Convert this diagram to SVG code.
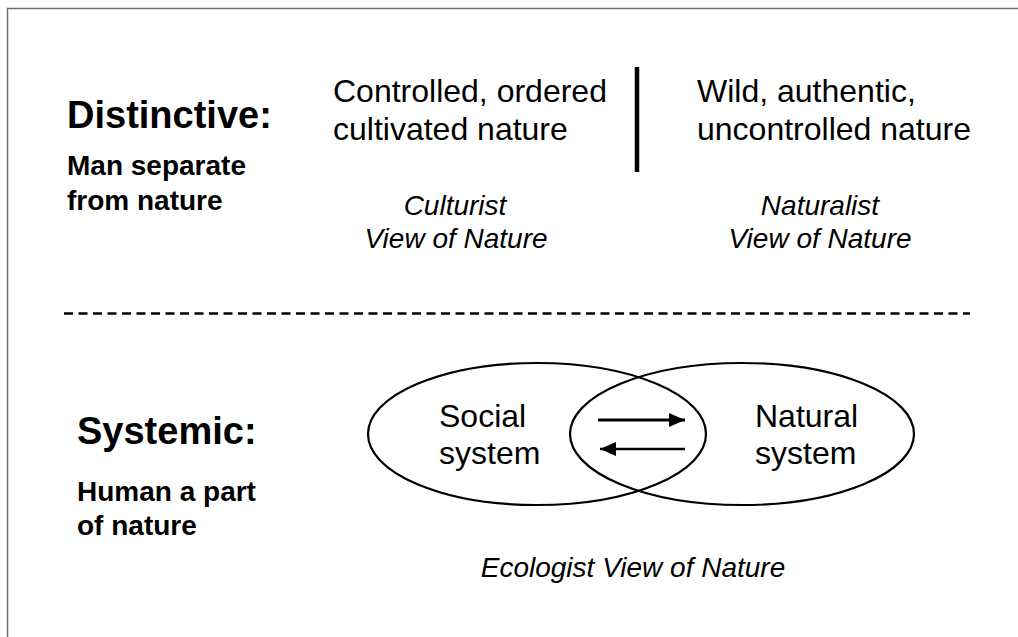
<svg xmlns="http://www.w3.org/2000/svg" width="1018" height="637" viewBox="0 0 1018 637">
  <style>
    .t { font-family: "Liberation Sans", Arial, sans-serif; fill: #000; }
    .h { font-size: 38px; font-weight: bold; }
    .sub { font-size: 28px; font-weight: bold; }
    .body { font-size: 32px; }
    .it { font-size: 28px; font-style: italic; }
    .ell { fill: none; stroke: #000; stroke-width: 2.2; }
  </style>
  <defs>
    <marker id="ah" markerWidth="10" markerHeight="10" refX="9" refY="5" orient="auto" markerUnits="userSpaceOnUse" viewBox="0 0 10 10">
      <path d="M0,0 L10,5 L0,10 Z" fill="#000"/>
    </marker>
    <marker id="head" viewBox="0 0 16 14" refX="16" refY="7" markerWidth="16" markerHeight="14" orient="auto" markerUnits="userSpaceOnUse">
      <path d="M0,0 L16,7 L0,14 Z" fill="#000"/>
    </marker>
  </defs>
  <rect x="0" y="0" width="1018" height="637" fill="#fff"/>
  <path d="M7.5,1030 V8.5 H1030" fill="none" stroke="#6e6e6e" stroke-width="1.5"/>

  <g id="distinctive">
    <text class="t h" x="67" y="128">Distinctive:</text>
    <text class="t sub" x="67" y="175">Man separate</text>
    <text class="t sub" x="67" y="210">from nature</text>
  </g>

  <g id="culturist">
    <text class="t body" x="333" y="102">Controlled, ordered</text>
    <text class="t body" x="333" y="140">cultivated nature</text>
    <text class="t it" x="455" y="215" text-anchor="middle">Culturist</text>
    <text class="t it" x="456" y="248" text-anchor="middle">View of Nature</text>
  </g>

  <g id="divider">
    <line x1="637" y1="67" x2="637" y2="172" stroke="#000" stroke-width="4.5"/>
  </g>

  <g id="naturalist">
    <text class="t body" x="697" y="102">Wild, authentic,</text>
    <text class="t body" x="697" y="140">uncontrolled nature</text>
    <text class="t it" x="820" y="215" text-anchor="middle">Naturalist</text>
    <text class="t it" x="820" y="248" text-anchor="middle">View of Nature</text>
  </g>

  <g id="separator">
    <line x1="64" y1="313.5" x2="970" y2="313.5" stroke="#000" stroke-width="2.5" stroke-dasharray="9 5.5"/>
  </g>

  <g id="systemic">
    <text class="t h" x="77" y="444">Systemic:</text>
    <text class="t sub" x="77" y="501">Human a part</text>
    <text class="t sub" x="77" y="535">of nature</text>
  </g>

  <g id="social-system">
    <ellipse class="ell" cx="537" cy="434" rx="169" ry="71"/>
    <text class="t body" x="439" y="427">Social</text>
    <text class="t body" x="439" y="464">system</text>
  </g>

  <g id="natural-system">
    <ellipse class="ell" cx="742" cy="434" rx="172" ry="71"/>
    <text class="t body" x="755" y="427">Natural</text>
    <text class="t body" x="755" y="464">system</text>
  </g>

  <g id="connectors">
    <line x1="598" y1="420" x2="685" y2="420" stroke="#000" stroke-width="3" marker-end="url(#head)"/>
    <line x1="685" y1="449" x2="600" y2="449" stroke="#000" stroke-width="2.5" marker-end="url(#head)"/>
  </g>

  <g id="ecologist">
    <text class="t it" x="633" y="577" text-anchor="middle">Ecologist View of Nature</text>
  </g>
</svg>
